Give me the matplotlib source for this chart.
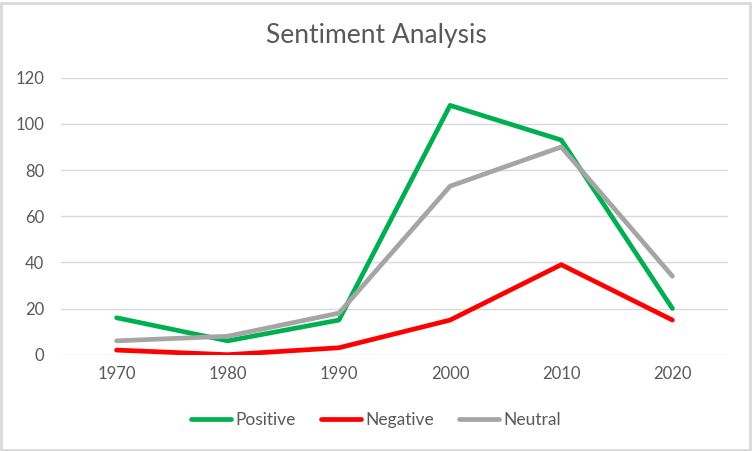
import matplotlib
matplotlib.use("Agg")
import matplotlib.pyplot as plt
from matplotlib.patches import Rectangle

years = ["1970", "1980", "1990", "2000", "2010", "2020"]
positive = [16, 6, 15, 108, 93, 20]
negative = [2, 0, 3, 15, 39, 15]
neutral = [6, 8, 18, 73, 90, 34]
yticks = [0, 20, 40, 60, 80, 100, 120]

plt.rcParams['font.family'] = ['Lato', 'DejaVu Sans']
text_color = '#595959'

fig = plt.figure(figsize=(7.52, 4.51), dpi=100)
ax = fig.add_axes([61/752, 1-354.7/451, (728-61)/752, (354.7-77.7)/451])

x = list(range(len(years)))
ax.plot(x, positive, color='#00B050', lw=3.4, label='Positive', solid_capstyle='round', solid_joinstyle='round')
ax.plot(x, negative, color='#FF0000', lw=3.4, label='Negative', solid_capstyle='round', solid_joinstyle='round')
ax.plot(x, neutral, color='#A5A5A5', lw=3.4, label='Neutral', solid_capstyle='round', solid_joinstyle='round')

ax.set_xlim(-0.5, len(years) - 0.5)
ax.set_ylim(0, 120)
ax.set_yticks(yticks)
ax.set_xticks(x)
ax.set_xticklabels(years)
ax.yaxis.grid(True, color='#D9D9D9', lw=1)
ax.set_axisbelow(True)
for s in ax.spines.values():
    s.set_visible(False)
ax.tick_params(axis='both', length=0, labelsize=12, colors=text_color, pad=8)
ax.tick_params(axis='y', pad=12)

fig.text(0.5, 1-36/451, 'Sentiment Analysis', ha='center', va='center', fontsize=19, color=text_color)

leg = fig.legend(loc='center', bbox_to_anchor=(0.5, 1-420/451), ncol=3, frameon=False,
                 fontsize=12.5, handlelength=2.3, handletextpad=0.25, columnspacing=1.45)
for t in leg.get_texts():
    t.set_color(text_color)

fig.patches.append(Rectangle((1.5/752, 1.5/451), 1-4/752, 1-4/451, transform=fig.transFigure,
                             fill=False, edgecolor='#D9D9D9', lw=2))

fig.savefig('out.png', dpi=100, facecolor='white')
